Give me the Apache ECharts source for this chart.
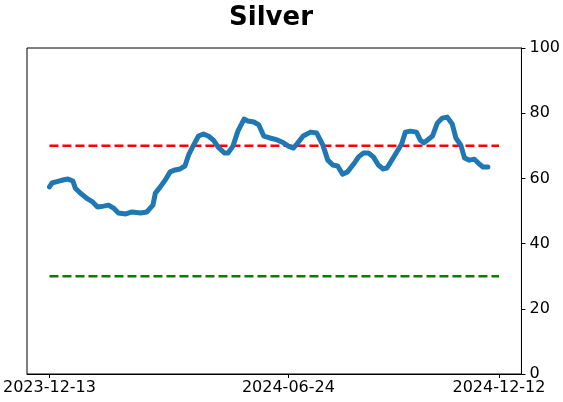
<!DOCTYPE html>
<html>
<head>
<meta charset="utf-8">
<script src="https://cdn.jsdelivr.net/npm/echarts@6/dist/echarts.min.js"></script>
<style>
  html, body { margin: 0; padding: 0; background: #fff; }
  #main { width: 563px; height: 402px; }
</style>
</head>
<body>
<div id="main"></div>
<script>
// dates and values
const dates = [
  '2023-12-13', '2023-12-15', '2023-12-19', '2023-12-24', '2023-12-28', '2024-01-01',
  '2024-01-03', '2024-01-07', '2024-01-13', '2024-01-17', '2024-01-21', '2024-01-26',
  '2024-01-30', '2024-02-03', '2024-02-07', '2024-02-13', '2024-02-18', '2024-02-25',
  '2024-03-01', '2024-03-06', '2024-03-08', '2024-03-12', '2024-03-16', '2024-03-20',
  '2024-03-24', '2024-03-28', '2024-04-01', '2024-04-04', '2024-04-08', '2024-04-12',
  '2024-04-16', '2024-04-20', '2024-04-24', '2024-04-28', '2024-05-03', '2024-05-06',
  '2024-05-10', '2024-05-14', '2024-05-19', '2024-05-22', '2024-05-27', '2024-05-31',
  '2024-06-04', '2024-06-09', '2024-06-15', '2024-06-20', '2024-06-24', '2024-06-28',
  '2024-07-01', '2024-07-06', '2024-07-12', '2024-07-17', '2024-07-22', '2024-07-26',
  '2024-07-30', '2024-08-03', '2024-08-07', '2024-08-11', '2024-08-16', '2024-08-20',
  '2024-08-24', '2024-08-28', '2024-09-01', '2024-09-05', '2024-09-09', '2024-09-12',
  '2024-09-16', '2024-09-20', '2024-09-24', '2024-09-27', '2024-10-01', '2024-10-06',
  '2024-10-09', '2024-10-12', '2024-10-15', '2024-10-19', '2024-10-23', '2024-10-27',
  '2024-10-31', '2024-11-04', '2024-11-07', '2024-11-11', '2024-11-14', '2024-11-18',
  '2024-11-22', '2024-11-26', '2024-11-29', '2024-12-03'
]
const silver = [
  57.4, 58.6, 59.0, 59.5, 59.8, 59.2,
  57.0, 55.5, 53.7, 52.8, 51.2, 51.5,
  51.8, 50.9, 49.4, 49.1, 49.7, 49.4,
  49.7, 51.8, 55.5, 57.4, 59.5, 62.0,
  62.6, 62.9, 63.8, 67.2, 70.2, 73.0,
  73.6, 73.0, 71.8, 69.6, 67.8, 67.8,
  69.9, 74.5, 78.2, 77.6, 77.3, 76.4,
  73.0, 72.4, 71.8, 70.9, 69.9, 69.3,
  70.6, 73.0, 74.2, 73.9, 70.2, 65.6,
  64.1, 63.8, 61.3, 62.0, 64.4, 66.6,
  67.8, 67.8, 66.6, 64.1, 62.9, 63.2,
  65.6, 68.1, 70.6, 74.2, 74.5, 74.2,
  71.8, 70.9, 71.8, 73.0, 77.0, 78.5,
  78.8, 76.7, 72.4, 70.2, 66.3, 65.6,
  65.9, 64.4, 63.5, 63.5
]
const refStart = '2023-12-13'
const refEnd = '2024-12-12'
const upperLevel = 70
const lowerLevel = 30
const tickDates = ['2023-12-13', '2024-06-24', '2024-12-12']

const toTs = s => Date.parse(s + 'T00:00:00Z')
const DAY = 86400000
// matplotlib style 5% margin around the data span
const span = toTs(refEnd) - toTs(refStart)
const xMin = toTs(refStart) - span * 0.05
const xMax = toTs(refEnd) + span * 0.05

const pad = n => (n < 10 ? '0' : '') + n
const fmt = v => {
  const d = new Date(v)
  return d.getUTCFullYear() + '-' + pad(d.getUTCMonth() + 1) + '-' + pad(d.getUTCDate())
}

const chart = echarts.init(document.getElementById('main'))
chart.setOption({
  animation: false,
  title: {
    text: 'Silver',
    left: 266,
    textAlign: 'center',
    top: 0,
    textStyle: { fontFamily: 'DejaVu Sans', fontWeight: 'bold', fontSize: 26, color: '#000' }
  },
  grid: {
    left: 27, right: 41, top: 48, bottom: 28,
    show: true, borderColor: '#000', borderWidth: 1, backgroundColor: '#fff'
  },
  xAxis: {
    type: 'value',
    min: xMin,
    max: xMax,
    splitLine: { show: false },
    axisLine: { show: true, lineStyle: { color: '#000', width: 1 } },
    axisTick: {
      show: true, length: 4, lineStyle: { color: '#000' },
      customValues: tickDates.map(toTs)
    },
    axisLabel: {
      customValues: tickDates.map(toTs),
      formatter: fmt,
      margin: 6,
      color: '#000',
      fontFamily: 'DejaVu Sans',
      fontSize: 16
    }
  },
  yAxis: {
    type: 'value',
    position: 'right',
    min: 0,
    max: 100,
    interval: 20,
    splitLine: { show: false },
    axisLine: { show: true, lineStyle: { color: '#000', width: 1 } },
    axisTick: { show: true, length: 4, lineStyle: { color: '#000' } },
    axisLabel: { margin: 8, color: '#000', fontFamily: 'DejaVu Sans', fontSize: 16 }
  },
  series: [
    {
      type: 'line',
      data: [[toTs(refStart), upperLevel], [toTs(refEnd), upperLevel]],
      symbol: 'none',
      lineStyle: { color: '#ff0000', width: 2.5, type: [9, 4] },
      z: 2
    },
    {
      type: 'line',
      data: [[toTs(refStart), lowerLevel], [toTs(refEnd), lowerLevel]],
      symbol: 'none',
      lineStyle: { color: '#008000', width: 2.5, type: [9, 4] },
      z: 2
    },
    {
      type: 'line',
      data: dates.map((d, i) => [toTs(d), silver[i]]),
      symbol: 'none',
      lineStyle: { color: '#1f77b4', width: 5, join: 'round', cap: 'round' },
      z: 3
    }
  ]
})
</script>
</body>
</html>
